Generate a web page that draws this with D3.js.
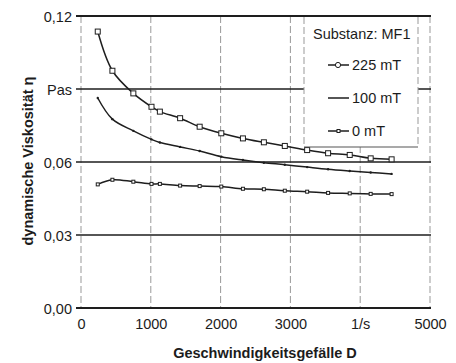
<!DOCTYPE html>
<html>
<head>
  <meta charset="utf-8">
  <title>Viskosität</title>
  <script src="https://d3js.org/d3.v7.min.js"></script>
  <style>
    body { margin: 0; background: #fff; }
    text { font-family: "Liberation Sans", Arial, sans-serif; fill: #1c1c1c; }
  </style>
</head>
<body>
  <svg width="456" height="363" id="mainsvg"></svg>
  <script>
    // Schergefälle D (1/s), gleich für alle Kurven
    const shearRates = [240, 450, 750, 1010, 1130, 1420, 1700, 2010, 2320, 2620, 2920, 3240, 3540, 3850, 4150, 4450];
    const eta225 = [0.1136, 0.0975, 0.0882, 0.0827, 0.0807, 0.0780, 0.0745, 0.0718, 0.0697, 0.0681, 0.0666, 0.0649, 0.0636, 0.0629, 0.0615, 0.0611];
    const eta100 = [0.0863, 0.0776, 0.0728, 0.0693, 0.0680, 0.0662, 0.0645, 0.0622, 0.0608, 0.0597, 0.0589, 0.0579, 0.0570, 0.0563, 0.0557, 0.0551];
    const eta0 = [0.0508, 0.0527, 0.0519, 0.0510, 0.0510, 0.0503, 0.0501, 0.0499, 0.0490, 0.0488, 0.0482, 0.0478, 0.0473, 0.0471, 0.0469, 0.0468];

    const xTicks = [0, 1000, 2000, 3000, 4000, 5000];
    const xTickLabels = ["0", "1000", "2000", "3000", "1/s", "5000"];
    const yTicks = [0, 0.03, 0.06, 0.09, 0.12];
    const yTickLabels = ["0,00", "0,03", "0,06", "Pas", "0,12"];
    const seriesNames = ["225 mT", "100 mT", "0 mT"];

    const svg = d3.select('#mainsvg');
    const x = d3.scaleLinear().domain([0, 5000]).range([81, 430]);
    const y = d3.scaleLinear().domain([0, 0.12]).range([308, 16]);
    const ink = '#1e1e1e';

    // vertikale Gitterlinien (gestrichelt)
    svg.append('g').attr('class', 'vgrid').selectAll('line').data(xTicks).enter().append('line')
      .attr('x1', d => x(d)).attr('x2', d => x(d))
      .attr('y1', y(0.12)).attr('y2', y(0))
      .attr('stroke', '#999').attr('stroke-width', 1)
      .attr('stroke-dasharray', '7,3');

    // horizontale Gitterlinien
    svg.append('g').attr('class', 'hgrid').selectAll('line').data(yTicks).enter().append('line')
      .attr('x1', x(0) - 5).attr('x2', x(5000) + 1)
      .attr('y1', d => y(d)).attr('y2', d => y(d))
      .attr('stroke', ink)
      .attr('stroke-width', d => (d === 0 || d === 0.12) ? 2 : 1.5);

    // Achsenbeschriftung
    const xAxis = d3.axisBottom(x).tickValues(xTicks).tickSize(0)
      .tickFormat((d, i) => xTickLabels[i]);
    const gx = svg.append('g').attr('transform', 'translate(0,' + 316 + ')').call(xAxis);
    gx.select('.domain').remove();
    gx.selectAll('.tick line').remove();
    gx.selectAll('text').attr('font-size', 14.5).attr('font-family', null);

    const yAxis = d3.axisLeft(y).tickValues(yTicks).tickSize(0)
      .tickFormat((d, i) => yTickLabels[i]);
    const gy = svg.append('g').attr('transform', 'translate(' + 75 + ',0)').call(yAxis);
    gy.select('.domain').remove();
    gy.selectAll('.tick line').remove();
    gy.selectAll('text').attr('font-size', 14.5).attr('font-family', null).attr('dy', '0.36em');

    svg.append('text').attr('x', 265).attr('y', 358)
      .attr('text-anchor', 'middle').attr('font-size', 14.5).attr('font-weight', 'bold')
      .text('Geschwindigkeitsgefälle D');
    svg.append('text').attr('transform', 'translate(33,161) rotate(-90)')
      .attr('text-anchor', 'middle').attr('font-size', 14.5).attr('font-weight', 'bold')
      .text('dynamische Viskosität η');

    // Kurven
    const series = [eta225, eta100, eta0];
    const line = d3.line().curve(d3.curveCatmullRom.alpha(0.5))
      .x(d => x(d[0])).y(d => y(d[1]));

    series.forEach((vals, k) => {
      const pts = shearRates.map((d, i) => [d, vals[i]]);
      svg.append('path').datum(pts)
        .attr('d', line).attr('fill', 'none')
        .attr('stroke', ink).attr('stroke-width', 1.5);
      const g = svg.append('g');
      if (k === 0) {
        g.selectAll('rect').data(pts).enter().append('rect')
          .attr('x', d => x(d[0]) - 2.5).attr('y', d => y(d[1]) - 2.5)
          .attr('width', 5).attr('height', 5)
          .attr('fill', '#fff').attr('stroke', ink).attr('stroke-width', 1);
      } else if (k === 1) {
        g.selectAll('circle').data(pts).enter().append('circle')
          .attr('cx', d => x(d[0])).attr('cy', d => y(d[1]))
          .attr('r', 1.2).attr('fill', ink);
      } else {
        g.selectAll('rect').data(pts).enter().append('rect')
          .attr('x', d => x(d[0]) - 1.5).attr('y', d => y(d[1]) - 1.5)
          .attr('width', 3).attr('height', 3)
          .attr('fill', '#fff').attr('stroke', ink).attr('stroke-width', 1);
      }
    });

    // Legende
    const lg = svg.append('g');
    lg.append('rect').attr('x', 304).attr('y', 17).attr('width', 114).attr('height', 130)
      .attr('fill', '#fff');
    lg.append('line').attr('x1', 304).attr('x2', 304).attr('y1', 17).attr('y2', 147)
      .attr('stroke', '#999').attr('stroke-dasharray', '7,3');
    lg.append('line').attr('x1', 418).attr('x2', 418).attr('y1', 17).attr('y2', 147)
      .attr('stroke', '#999').attr('stroke-dasharray', '7,3');
    lg.append('line').attr('x1', 304).attr('x2', 418).attr('y1', 147).attr('y2', 147)
      .attr('stroke', '#555').attr('stroke-width', 1.2);
    lg.append('text').attr('x', 313).attr('y', 39).attr('font-size', 14.5)
      .text('Substanz: MF1');

    const rowY = [65, 98, 131];
    seriesNames.forEach((name, k) => {
      const yy = rowY[k];
      lg.append('line').attr('x1', 328).attr('x2', 349).attr('y1', yy).attr('y2', yy)
        .attr('stroke', ink).attr('stroke-width', 1.5);
      if (k === 0) {
        lg.append('circle').attr('cx', 338).attr('cy', yy).attr('r', 2.6)
          .attr('fill', '#fff').attr('stroke', ink).attr('stroke-width', 1);
      } else if (k === 2) {
        lg.append('rect').attr('x', 337).attr('y', yy - 1.5).attr('width', 3).attr('height', 3)
          .attr('fill', '#fff').attr('stroke', ink).attr('stroke-width', 1);
      }
      lg.append('text').attr('x', 352).attr('y', yy).attr('dy', '0.36em')
        .attr('font-size', 14.5).text(name);
    });
  </script>
</body>
</html>
